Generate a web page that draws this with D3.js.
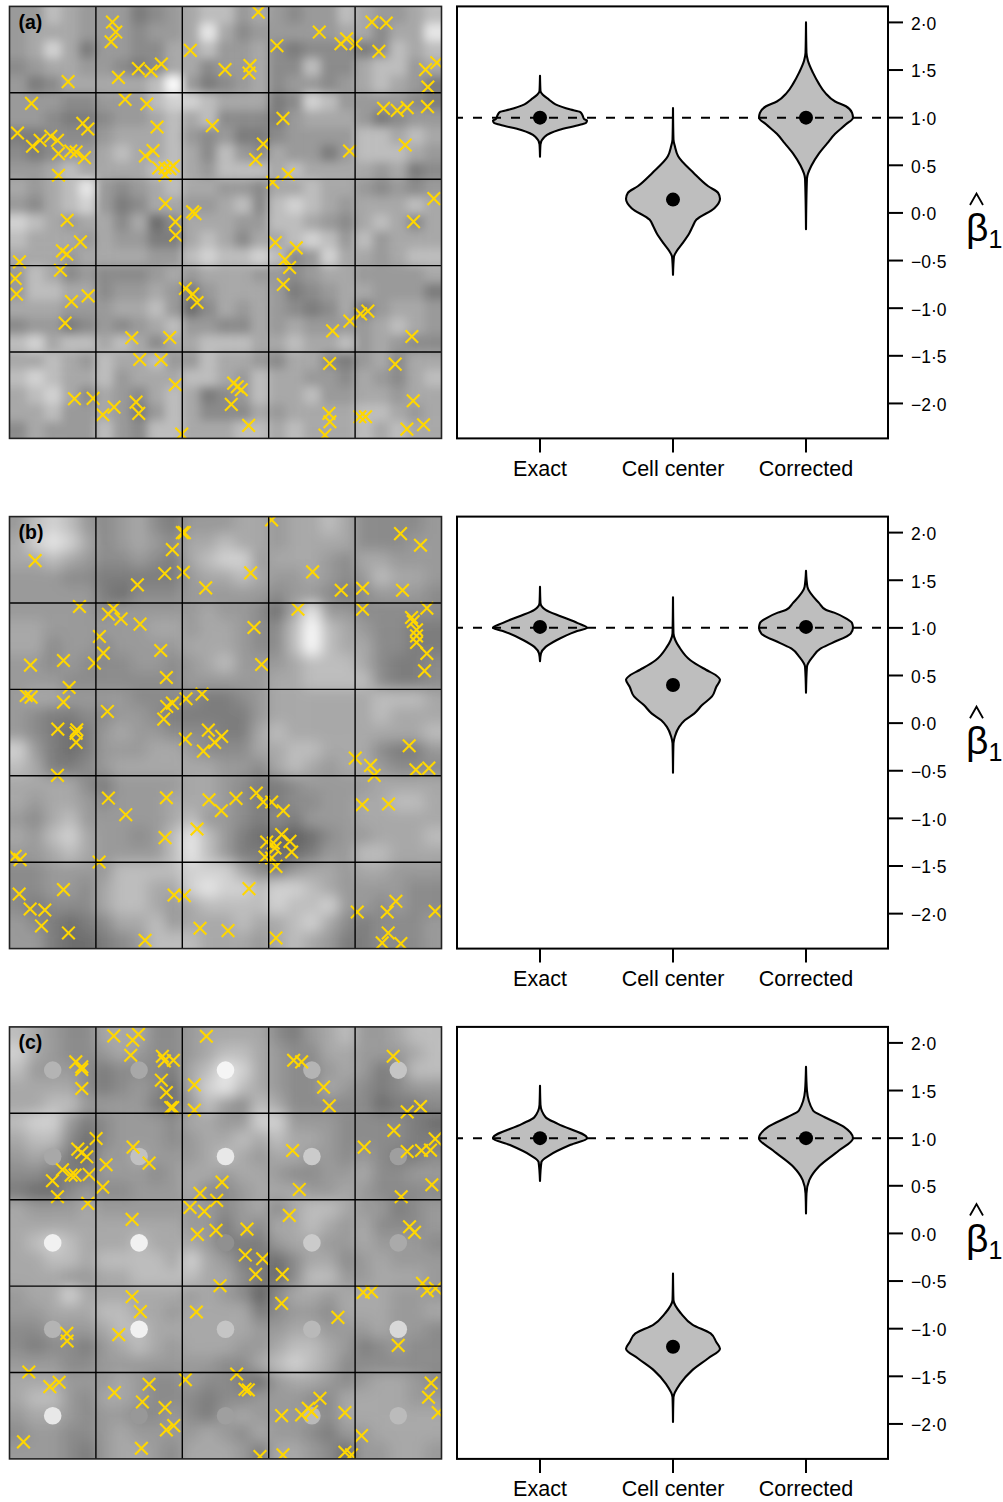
<!DOCTYPE html>
<html>
<head>
<meta charset="utf-8">
<script src="https://cdn.jsdelivr.net/npm/d3@7"></script>
<style>
  html, body { margin: 0; padding: 0; background: #fff; }
  svg { display: block; }
  text { font-family: "Liberation Sans", Arial, sans-serif; fill: #000; }
</style>
</head>
<body>
<svg id="chart" width="1003" height="1502"></svg>
<script>
// DATA

const methods = ["Exact", "Cell center", "Corrected"];
const betaTicks = [2, 1.5, 1, 0.5, 0, -0.5, -1, -1.5, -2];
const trueBeta = 1;

// grey field on a 25 x 25 grid, 0 = darkest, 9 = lightest
const aField = [
  "4465444234566454344654456",
  "4555444344585344444553558",
  "4575244335564453233323656",
  "3455443235534453363356645",
  "4235555569423453443456542",
  "4443344467765552376444432",
  "4432234456563332455542344",
  "2233345556434223444466565",
  "3234456556536435442466654",
  "4456555566546665655554523",
  "5456843456554435565543434",
  "4356742355445636765455565",
  "7654553513555446654356535",
  "6555454422565355676464555",
  "5554555544676676347554566",
  "4653433345455544345544445",
  "4665534454245554234554442",
  "5554445564135454323524554",
  "3442343456443354544445654",
  "6756656535566655655645433",
  "5565465564465543553245355",
  "6765564555665465544354356",
  "5675354356523465564455455",
  "5564454246533354555566545",
  "3544464366555665655565655"
];
const bField = [
  "4676434532444554556533334",
  "5787534543556554555533344",
  "5565433432567745554355444",
  "4443322222455654454346554",
  "4444421333444443443234443",
  "4444434444454431584433333",
  "5544444455455433696543322",
  "5534434444555433696553322",
  "4434333443456444566653223",
  "4443333333444445566663223",
  "4554444333322345555556665",
  "4322334432222245555556555",
  "4321245443332256555555556",
  "7421244455433355665553224",
  "6522345555554435654554333",
  "5555324444554322344445555",
  "5455434445554322334455665",
  "4356444445644323244455555",
  "5467544346864211013445556",
  "4456544446864221124466555",
  "3344446666777532455455444",
  "3344356655787767765444433",
  "3233356654566667667443433",
  "4321235564555655675323334",
  "4421123466655545654223334"
];
const cField = [
  "6543355533455553245644566",
  "7543345433456654335544456",
  "6444323332568754334542366",
  "5555323431578654335432344",
  "5566444421464365333331223",
  "6774234443554477444333321",
  "5663134443455656554333322",
  "4542144544456545544343223",
  "3322244434554554334453344",
  "2113433444533455544543333",
  "5444544444443453566544234",
  "5555555555442435565453334",
  "5676555655542224554454443",
  "5566566665754221355345444",
  "5554455666655321366445554",
  "4557555555454303554555444",
  "4455566554555523443555445",
  "3344456655555544554445443",
  "3233245654555445665423433",
  "4443344444443356765333333",
  "5554445433433214554345543",
  "5664355433323344433555544",
  "4554344334324544443555555",
  "3443345444454354432445555",
  "4443245543555425543144554"
];

// brightness of the 25 discs painted at the cell centers of map (c), same 0-9 units
const cDiscs = [5.6, 5, 8.7, 5.6, 6.4, 5, 6.2, 8.1, 6.7, 4.4, 8.5, 8.5, 3.3, 6.7, 5.1, 5.6, 8.5, 6.4, 5.8, 7.3, 8.1, 3.9, 4.4, 5.8, 5.9];

// sample locations, in map units (one cell is about 259 units)
const aPointX = [204,337,347,333,355,415,453,484,571,675,750,747,775,831,958,1023,1040,1068,1116,1159,1137,1277,1311,1284,94,375,440,52,248,263,152,120,97,172,175,212,228,253,175,471,459,436,476,495,510,520,495,637,790,767,849,1049,865,818,1151,1192,1222,1283,1216,201,241,187,200,58,496,526,527,578,585,826,889,855,869,1302,1241,181,45,49,214,264,195,395,509,556,578,591,850,998,1050,1082,1104,1236,419,483,526,223,279,342,308,408,416,545,701,712,724,694,746,989,1186,987,990,975,1080,1097,1240,1221,1271];
const aPointY = [244,65,95,124,231,205,212,191,150,208,196,218,35,136,95,130,115,130,65,68,153,208,187,260,309,297,311,398,369,386,408,420,438,420,460,452,455,472,525,380,451,467,503,503,505,497,525,376,431,478,354,452,522,546,324,330,322,319,434,660,725,752,762,785,610,665,705,635,640,727,743,778,802,595,664,810,835,882,904,887,969,1013,1012,865,882,907,853,992,963,941,933,1009,1078,1079,1154,1196,1195,1221,1244,1206,1240,1302,1149,1160,1169,1213,1276,1090,1092,1240,1265,1305,1250,1250,1202,1287,1274];
const bPointX = [105,547,553,517,494,550,412,617,752,815,938,1024,1088,1208,1202,1262,238,340,325,363,420,298,310,283,190,91,207,482,499,762,785,894,1088,1281,1235,1240,1250,1250,1250,1281,1274,78,93,190,173,230,228,228,322,500,517,491,558,606,625,665,644,610,556,1066,1112,1228,1248,1287,172,1123,325,377,499,627,664,708,769,790,815,850,1087,1166,591,495,845,800,820,870,825,875,795,815,828,45,60,297,57,190,90,134,124,205,435,522,553,747,600,684,828,1072,1188,1162,1306,1165,1147,1203];
const bPointY = [152,68,68,119,191,187,225,234,189,30,186,241,235,241,71,106,290,296,313,327,343,380,430,460,452,466,533,422,503,353,464,298,298,295,323,335,360,378,398,431,483,557,562,577,658,660,670,698,605,590,580,628,567,553,661,680,698,724,688,745,767,708,780,775,797,797,865,915,864,870,903,866,850,877,877,903,885,883,958,984,975,997,1000,995,1015,1027,1042,1045,1070,1040,1050,1057,1153,1140,1198,1201,1249,1270,1292,1156,1158,1137,1256,1263,1285,1207,1175,1207,1205,1270,1300,1302];
const cPointX = [341,415,398,392,227,245,245,245,619,487,493,520,484,499,512,518,583,583,881,905,971,988,1180,1222,1262,288,233,245,260,399,447,318,187,213,225,157,267,308,172,263,666,600,650,878,898,1182,1093,1222,1265,1292,1306,1296,1204,570,613,396,592,648,741,868,736,788,767,847,660,1229,1244,1268,1090,1115,1282,1307,396,421,845,589,1014,200,201,356,1195,86,149,177,343,447,427,495,521,499,424,70,556,710,735,745,845,960,925,905,935,1035,1085,1294,1286,1315,1035,1055,780,849];
const cPointY = [47,42,60,105,125,140,148,205,48,108,122,120,180,217,262,262,194,270,120,125,201,257,108,275,259,355,387,397,410,381,429,434,449,465,465,482,463,501,530,550,486,520,541,391,508,331,381,394,391,390,356,494,530,562,574,598,643,631,627,586,705,716,763,763,797,620,637,790,817,815,812,805,830,875,850,876,892,940,963,944,976,1056,1100,1087,1118,1093,1146,1163,1217,1230,1285,1266,1079,1062,1108,1110,1187,1135,1165,1185,1175,1178,1247,1089,1132,1178,1297,1305,1310,1305];

// violin outlines: beta value and relative half width
const aExactV = [1.44,1.28,1.24,1.19,1.14,1.085,1.06,1.03,0.985,0.97,0.945,0.925,0.87,0.80,0.72,0.59];
const aExactW = [0,0.01,0.06,0.19,0.33,0.65,0.85,0.90,0.94,1,0.98,0.85,0.40,0.10,0.01,0];
const aCenterV = [1.10,0.77,0.70,0.594,0.42,0.28,0.21,0.15,0.05,-0.07,-0.14,-0.21,-0.32,-0.40,-0.46,-0.65];
const aCenterW = [0,0.01,0.04,0.11,0.44,0.75,0.96,1,0.88,0.5,0.42,0.35,0.2,0.08,0.02,0];
const aCorrectedV = [2.0,1.68,1.6,1.47,1.36,1.26,1.17,1.12,1.05,1.0,0.93,0.83,0.73,0.62,0.5,0.36,-0.17];
const aCorrectedW = [0,0.01,0.04,0.15,0.27,0.41,0.62,0.85,0.98,1,0.85,0.62,0.45,0.27,0.12,0.02,0];

const bExactV = [1.43,1.26,1.19,1.12,1.05,1.0,0.96,0.87,0.80,0.73,0.65];
const bExactW = [0,0.01,0.12,0.45,0.8,1,0.75,0.35,0.12,0.02,0];
const bCenterV = [1.32,0.944,0.87,0.80,0.66,0.56,0.50,0.455,0.38,0.28,0.19,0.10,0.03,-0.04,-0.14,-0.21,-0.52];
const bCenterW = [0,0.01,0.05,0.13,0.37,0.70,0.92,1,0.92,0.83,0.62,0.45,0.25,0.13,0.04,0.01,0];
const bCorrectedV = [1.60,1.43,1.26,1.19,1.16,1.10,1.05,1.0,0.94,0.84,0.78,0.70,0.59,0.32];
const bCorrectedW = [0,0.03,0.28,0.42,0.6,0.85,0.98,1,0.95,0.55,0.3,0.15,0.02,0];

const cExactV = [1.55,1.35,1.22,1.15,1.0,0.93,0.82,0.75,0.55];
const cExactW = [0,0.01,0.12,0.38,1,0.65,0.2,0.03,0];
const cCenterV = [-0.42,-0.70,-0.84,-0.96,-1.05,-1.14,-1.21,-1.31,-1.44,-1.58,-1.72,-1.98];
const cCenterW = [0,0.01,0.17,0.42,0.8,0.92,1,0.75,0.4,0.15,0.01,0];
const cCorrectedV = [1.75,1.50,1.29,1.22,1.12,1.0,0.87,0.70,0.56,0.42,0.21];
const cCorrectedW = [0,0.02,0.15,0.4,0.8,1,0.7,0.27,0.07,0.01,0];

// posterior means drawn as the black dots
const aMeans = [1.0, 0.14, 1.0];
const bMeans = [1.01, 0.40, 1.01];
const cMeans = [1.0, -1.19, 1.0];

// LAYOUT
const panels = [
  { id: "a", top: 6.4, field: aField, px: aPointX, py: aPointY, yStart: 18, blur: 4.8,
    v: [aExactV, aCenterV, aCorrectedV], w: [aExactW, aCenterW, aCorrectedW], means: aMeans, hatShift: 0 },
  { id: "b", top: 516.6, field: bField, px: bPointX, py: bPointY, yStart: 20, blur: 6.8,
    v: [bExactV, bCenterV, bCorrectedV], w: [bExactW, bCenterW, bCorrectedW], means: bMeans, hatShift: 3 },
  { id: "c", top: 1026.9, field: cField, px: cPointX, py: cPointY, yStart: 20, blur: 6.8,
    v: [cExactV, cCenterV, cCorrectedV], w: [cExactW, cCenterW, cCorrectedW], means: cMeans, hatShift: -10 }
];

const boxSize = 432;
const mapLeft = 9.5;
const plotLeft = 457;
const plotRight = 888;
const cellsPerSide = 5;
const gridPerSide = 25;
const mapUnitsStart = 28;
const mapUnits = 1297;
const halfWidth = 47;

const svg = d3.select("#chart");
const defs = svg.append("defs");

const grey = d3.scaleLinear().domain([0, 5, 9]).range(["#606060", "#a8a8a8", "#fbfbfb"]);
const clamp = d3.scaleLinear().domain([0, gridPerSide - 1]).range([0, gridPerSide - 1]).clamp(true);

const betaFormat = d => d3.format(".1f")(d).replace(".", "·").replace("-", "–");

panels.forEach(p => {
  drawMap(p);
  drawViolins(p);
});

// left side: grey field, discs, points, grid
function drawMap(p) {
  const x = d3.scaleLinear().domain([mapUnitsStart, mapUnitsStart + mapUnits]).range([mapLeft, mapLeft + boxSize]);
  const y = d3.scaleLinear().domain([p.yStart, p.yStart + mapUnits]).range([p.top, p.top + boxSize]);
  const gridX = d3.scaleLinear().domain([0, gridPerSide]).range([mapLeft, mapLeft + boxSize]);
  const gridY = d3.scaleLinear().domain([0, gridPerSide]).range([p.top, p.top + boxSize]);
  const cellX = d3.scaleLinear().domain([0, cellsPerSide]).range([mapLeft, mapLeft + boxSize]);
  const cellY = d3.scaleLinear().domain([0, cellsPerSide]).range([p.top, p.top + boxSize]);

  defs.append("clipPath").attr("id", "map-" + p.id)
    .append("rect")
    .attr("x", mapLeft).attr("y", p.top)
    .attr("width", boxSize).attr("height", boxSize);

  defs.append("filter")
    .attr("id", "soften-" + p.id)
    .attr("x", "-5%").attr("y", "-5%")
    .attr("width", "110%").attr("height", "110%")
    .append("feGaussianBlur")
    .attr("stdDeviation", p.blur);

  const map = svg.append("g").attr("clip-path", `url(#map-${p.id})`);

  // cells run past the border (repeating the edge value) so the blur doesn't fade out there
  const cells = [];
  d3.range(-4, gridPerSide + 4).forEach(r => {
    d3.range(-4, gridPerSide + 4).forEach(c => {
      cells.push({ r, c, value: +p.field[clamp(r)][clamp(c)] });
    });
  });

  map.append("g")
    .attr("filter", `url(#soften-${p.id})`)
    .selectAll("rect")
    .data(cells)
    .join("rect")
    .attr("x", d => gridX(d.c))
    .attr("y", d => gridY(d.r))
    .attr("width", gridX(1) - gridX(0) + 0.5)
    .attr("height", gridY(1) - gridY(0) + 0.5)
    .attr("fill", d => grey(d.value));

  if (p.id === "c") {
    map.append("g")
      .selectAll("circle")
      .data(cDiscs)
      .join("circle")
      .attr("cx", (d, i) => cellX(i % cellsPerSide + 0.5))
      .attr("cy", (d, i) => cellY(Math.floor(i / cellsPerSide) + 0.5))
      .attr("r", 8.8)
      .attr("fill", d => grey(d));
  }

  const cross = d3.symbol().type(d3.symbolTimes).size(106);

  map.append("g")
    .selectAll("path")
    .data(p.px)
    .join("path")
    .attr("transform", (d, i) => `translate(${x(d)},${y(p.py[i])})`)
    .attr("d", cross)
    .attr("fill", "none")
    .attr("stroke", "#ffd700")
    .attr("stroke-width", 2.1);

  // grid lines sit on top of the points
  map.append("g")
    .selectAll("line")
    .data(d3.range(1, cellsPerSide))
    .join("line")
    .attr("x1", d => cellX(d)).attr("x2", d => cellX(d))
    .attr("y1", p.top).attr("y2", p.top + boxSize)
    .attr("stroke", "#000").attr("stroke-width", 1.4);

  map.append("g")
    .selectAll("line")
    .data(d3.range(1, cellsPerSide))
    .join("line")
    .attr("x1", mapLeft).attr("x2", mapLeft + boxSize)
    .attr("y1", d => cellY(d)).attr("y2", d => cellY(d))
    .attr("stroke", "#000").attr("stroke-width", 1.4);

  svg.append("rect")
    .attr("x", mapLeft).attr("y", p.top)
    .attr("width", boxSize).attr("height", boxSize)
    .attr("fill", "none")
    .attr("stroke", "#222").attr("stroke-width", 1.6);

  svg.append("text")
    .attr("x", 18.5).attr("y", p.top + 22.5)
    .attr("font-size", 19.5)
    .attr("font-weight", "bold")
    .text(`(${p.id})`);
}

// right side: violins with the true value dashed across
function drawViolins(p) {
  const y = d3.scaleLinear().domain([2.168, -2.367]).range([p.top, p.top + boxSize]);
  const x = d3.scalePoint().domain(methods).range([540, 806]);
  const w = d3.scaleLinear().domain([0, 1]).range([0, halfWidth]);

  const g = svg.append("g");

  methods.forEach((m, i) => {
    const area = d3.area()
      .curve(d3.curveMonotoneY)
      .y(d => y(d))
      .x0((d, j) => x(m) - w(p.w[i][j]))
      .x1((d, j) => x(m) + w(p.w[i][j]));

    g.append("path")
      .attr("d", area(p.v[i]))
      .attr("fill", "#bebebe")
      .attr("stroke", "#000")
      .attr("stroke-width", 2.1)
      .attr("stroke-linejoin", "round");
  });

  g.append("line")
    .attr("x1", plotLeft).attr("x2", plotRight)
    .attr("y1", y(trueBeta)).attr("y2", y(trueBeta))
    .attr("stroke", "#000")
    .attr("stroke-width", 2)
    .attr("stroke-dasharray", "9 10")
    .attr("stroke-dashoffset", 3);

  g.selectAll("circle")
    .data(p.means)
    .join("circle")
    .attr("cx", (d, i) => x(methods[i]))
    .attr("cy", d => y(d))
    .attr("r", 7)
    .attr("fill", "#000");

  g.append("rect")
    .attr("x", plotLeft).attr("y", p.top)
    .attr("width", plotRight - plotLeft).attr("height", boxSize)
    .attr("fill", "none")
    .attr("stroke", "#000").attr("stroke-width", 2);

  const yAxis = d3.axisRight(y)
    .tickValues(betaTicks)
    .tickSize(15)
    .tickPadding(8)
    .offset(0)
    .tickFormat(betaFormat);

  const right = svg.append("g")
    .attr("transform", `translate(${plotRight},0)`)
    .call(yAxis);
  right.select(".domain").remove();
  right.selectAll("line").attr("stroke", "#000").attr("stroke-width", 2);
  right.selectAll("text")
    .attr("font-size", 17.5)
    .attr("font-family", '"Liberation Sans"')
    .attr("dy", "0.42em");

  const xAxis = d3.axisBottom(x)
    .tickSize(14)
    .tickPadding(8)
    .offset(0);

  const bottom = svg.append("g")
    .attr("transform", `translate(0,${p.top + boxSize})`)
    .call(xAxis);
  bottom.select(".domain").remove();
  bottom.selectAll("line").attr("stroke", "#000").attr("stroke-width", 2);
  bottom.selectAll("text").attr("font-size", 21.5).attr("font-family", '"Liberation Sans"');

  // y label, beta hat with subscript 1
  const base = p.top + 234.6 + p.hatShift;
  svg.append("text")
    .attr("x", 966).attr("y", base)
    .attr("font-size", 39)
    .text("β")
    .append("tspan")
    .attr("dy", 7)
    .attr("font-size", 25)
    .text("1");

  const hatX = d3.scaleLinear().domain([0, 1]).range([970, 983]);
  const hatY = d3.scaleLinear().domain([0, 1]).range([base - 47.5, base - 36]);
  svg.append("path")
    .attr("d", d3.line().x(d => hatX(d[0])).y(d => hatY(d[1]))([[0, 1], [0.5, 0], [1, 1]]))
    .attr("fill", "none")
    .attr("stroke", "#000")
    .attr("stroke-width", 1.8);
}
</script>
</body>
</html>
